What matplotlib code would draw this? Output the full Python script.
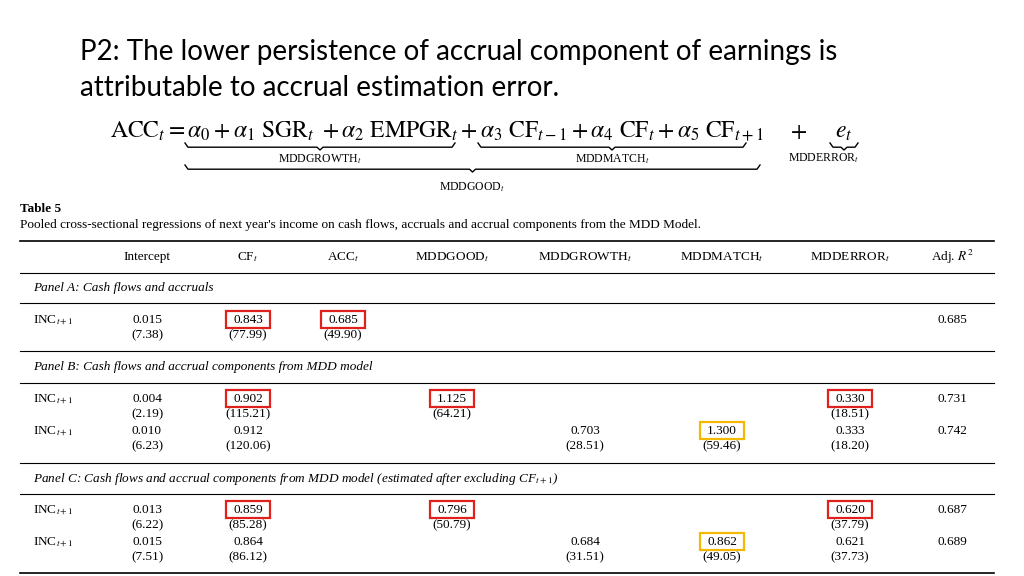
import matplotlib.pyplot as plt
import numpy as np
from matplotlib.patches import Rectangle

plt.rcParams["mathtext.fontset"] = "stix"

# table contents
columns = ["Intercept", r"CF$_t$", r"ACC$_t$", r"MDDGOOD$_t$", r"MDDGROWTH$_t$",
           r"MDDMATCH$_t$", r"MDDERROR$_t$", r"Adj. $R^2$"]
row_label = r"INC$_{t+1}$"

panel_a = [["0.015", "0.843", "0.685", "", "", "", "", "0.685"],
           ["(7.38)", "(77.99)", "(49.90)", "", "", "", "", ""]]
panel_b1 = [["0.004", "0.902", "", "1.125", "", "", "0.330", "0.731"],
            ["(2.19)", "(115.21)", "", "(64.21)", "", "", "(18.51)", ""]]
panel_b2 = [["0.010", "0.912", "", "", "0.703", "1.300", "0.333", "0.742"],
            ["(6.23)", "(120.06)", "", "", "(28.51)", "(59.46)", "(18.20)", ""]]
panel_c1 = [["0.013", "0.859", "", "0.796", "", "", "0.620", "0.687"],
            ["(6.22)", "(85.28)", "", "(50.79)", "", "", "(37.79)", ""]]
panel_c2 = [["0.015", "0.864", "", "", "0.684", "0.862", "0.621", "0.689"],
            ["(7.51)", "(86.12)", "", "", "(31.51)", "(49.05)", "(37.73)", ""]]

# highlighted cells: (row index in all_rows, column index, colour)
red, yellow = "#e0201b", "#f5b800"
highlights = [(0, 1, red), (0, 2, red),
              (1, 1, red), (1, 3, red), (1, 6, red), (2, 5, yellow),
              (3, 1, red), (3, 3, red), (3, 6, red), (4, 5, yellow)]

all_rows = [panel_a, panel_b1, panel_b2, panel_c1, panel_c2]
row_y = [320, 399, 431, 510, 542]
col_x = [147, 248, 343, 452, 585, 722, 850, 952]

fig = plt.figure(figsize=(10.24, 5.76), dpi=100)
ax = fig.add_axes([0, 0, 1, 1])
ax.set_xlim(0, 1024)
ax.set_ylim(576, 0)
ax.axis("off")

# title
ax.text(80, 52, "P2: The lower persistence of accrual component of earnings is",
        fontsize=20, family="Lato", va="center")
ax.text(80, 88, "attributable to accrual estimation error.",
        fontsize=20, family="Lato", va="center")

# equation
ax.text(110, 131, r"$\mathrm{ACC}_t = \alpha_0 + \alpha_1\ \mathrm{SGR}_t\ + \alpha_2\ \mathrm{EMPGR}_t + "
        r"\alpha_3\ \mathrm{CF}_{t-1} + \alpha_4\ \mathrm{CF}_t + \alpha_5\ \mathrm{CF}_{t+1}$",
        fontsize=17, va="center")
ax.text(790, 131, r"$+$", fontsize=17, va="center")
ax.text(835, 131, r"$e_t$", fontsize=17, va="center")


def brace(x0, x1, y, h=7):
    xm = (x0 + x1) / 2
    ax.plot([x0, x0 + 3, xm - 3, xm, xm + 3, x1 - 3, x1],
            [y, y + h * 0.6, y + h * 0.6, y + h, y + h * 0.6, y + h * 0.6, y],
            color="black", lw=1)


brace(185, 455, 143)
brace(478, 746, 143)
brace(830, 858, 143)
brace(185, 760, 165)
ax.text(320, 159, r"MDDGROWTH$_t$", fontsize=8.5, family="Liberation Serif", ha="center", va="center")
ax.text(612, 159, r"MDDMATCH$_t$", fontsize=8.5, family="Liberation Serif", ha="center", va="center")
ax.text(824, 158, r"MDDERROR$_t$", fontsize=8.5, family="Liberation Serif", ha="center", va="center")
ax.text(472, 187, r"MDDGOOD$_t$", fontsize=8.5, family="Liberation Serif", ha="center", va="center")

# table captions
serif = dict(family="Liberation Serif", fontsize=9.5, va="center")
ax.text(20, 209, "Table 5", weight="bold", **serif)
ax.text(20, 225, "Pooled cross-sectional regressions of next year's income on cash flows, "
        "accruals and accrual components from the MDD Model.", **serif)

for y, lw in [(241, 1.2), (273, 0.8), (303, 0.8), (351, 0.8), (383, 0.8),
              (463, 0.8), (494, 0.8), (573, 1.2)]:
    ax.plot([20, 994], [y, y], color="black", lw=lw)

for x, c in zip(col_x, columns):
    ax.text(x, 257, c, ha="center", **serif)

ax.text(33, 288, "Panel A: Cash flows and accruals", style="italic", **serif)
ax.text(33, 367, "Panel B: Cash flows and accrual components from MDD model", style="italic", **serif)
ax.text(33, 479, r"Panel C: Cash flows and accrual components from MDD model (estimated after excluding CF$_{t+1}$)",
        style="italic", **serif)

for y, rows in zip(row_y, all_rows):
    ax.text(33, y, row_label, **serif)
    for k, vals in enumerate(rows):
        for x, v in zip(col_x, vals):
            if v:
                ax.text(x, y + 15 * k, v, ha="center", **serif)

for r, c, colr in highlights:
    x, y = col_x[c], row_y[r]
    ax.add_patch(Rectangle((x - 22, y - 9), 44, 17, fill=False, ec=colr, lw=1.6))

plt.savefig("out.png", dpi=100)
